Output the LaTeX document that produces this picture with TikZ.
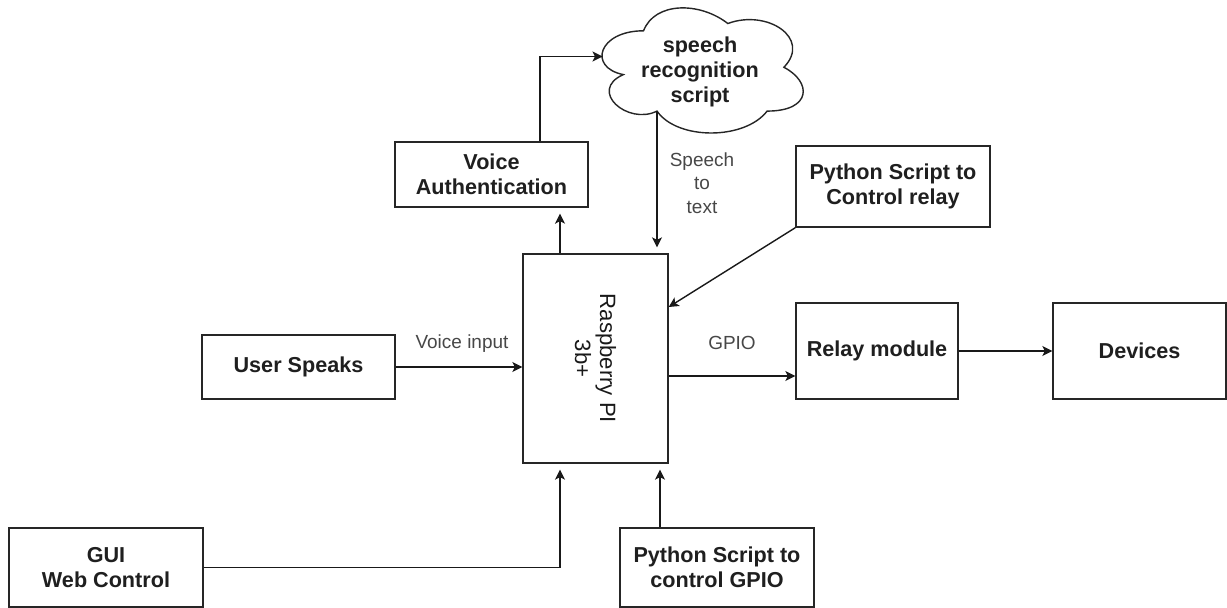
\documentclass[tikz,border=0pt]{standalone}
\usepackage{fontspec}
\setmainfont{Liberation Sans}
\usetikzlibrary{arrows.meta,calc}
\begin{document}
\begin{tikzpicture}[x=0.02cm,y=-0.02cm,
  box/.style={draw=black!85, line width=0.8pt, fill=white, align=center,
    font=\fontsize{12.3}{14.2}\selectfont\bfseries, inner sep=0pt, text=black!88},
  cloudtxt/.style={align=center, font=\fontsize{12.3}{14.2}\selectfont\bfseries, inner sep=0pt, text=black!88},
  rtxt/.style={align=center, font=\fontsize{12.6}{14.2}\selectfont, inner sep=0pt, text=black!90},
  lbl/.style={font=\fontsize{10.8}{13.4}\selectfont, text=black!72, align=center, inner sep=0pt},
  arr/.style={draw=black!90, line width=0.8pt, -{Stealth[length=0.2cm,width=0.2cm,inset=0.05cm]}},
  gap/.style={shorten >=0.12cm}]
\useasboundingbox (0,0) rectangle (1227,608);

% boxes
\node[box, minimum width=3.86cm, minimum height=1.30cm] (va) at (491.5,174.5) {Voice\\Authentication};
\node[box, minimum width=2.90cm, minimum height=4.18cm] (rpi) at (595.5,358.5) {};
\node[rtxt, rotate=-90] (rpitxt) at (rpi.center) {Raspberry PI\\3b+};
\node[box, minimum width=3.88cm, minimum height=1.62cm] (pcr) at (893,186.5) {Python Script to\\Control relay};
\node[box, minimum width=3.24cm, minimum height=1.92cm] (relay) at (877,351) {Relay module};
\node[box, minimum width=3.46cm, minimum height=1.92cm] (dev) at (1139.5,351) {Devices};
\node[box, minimum width=3.86cm, minimum height=1.28cm] (us) at (298.5,367) {User Speaks};
\node[box, minimum width=3.88cm, minimum height=1.58cm] (gui) at (106,567.5) {GUI\\Web Control};
\node[box, minimum width=3.88cm, minimum height=1.58cm] (pg) at (717,567.5) {Python Script to\\control GPIO};

% cloud
\draw[draw=black!85, line width=0.8pt, fill=white]
  (643.55,30.8) .. controls (598.6,30.8) and (587.4,67.3) .. (623.3,74.6)
  .. controls (587.4,90.7) and (627.8,125.7) .. (657.0,111.1)
  .. controls (677.2,140.3) and (744.6,140.3) .. (767.1,111.1)
  .. controls (812.0,111.1) and (812.0,81.9) .. (783.9,67.3)
  .. controls (812.0,38.1) and (767.1,8.9) .. (727.8,23.5)
  .. controls (699.7,1.6) and (654.8,1.6) .. (643.55,30.8) -- cycle;
\node[cloudtxt] (cl) at (700,72) {speech\\recognition\\script};
\coordinate (clw) at (602.5,56.5);
\coordinate (cls) at (657,111.1);

% connectors
\draw[arr] ([xshift=0.97cm]va.north) |- (clw);
\draw[arr, gap] (cls) -- (cls |- rpi.north);
\node[lbl] (stt) at (702,183) {Speech\\to\\text};
\draw[arr, gap] ([xshift=-0.71cm]rpi.north) -- ([xshift=-0.71cm]rpi.north |- va.south);
\draw[arr] (pcr.south west) -- ([yshift=1.03cm]rpi.east);
\draw[arr] (us.east) -- (us.east -| rpi.west);
\node[lbl] (vi) at (462,344) {Voice input};
\draw[arr] ([yshift=-0.35cm]rpi.east) -- ([yshift=-0.35cm]rpi.east -| relay.west);
\node[lbl] (gp) at (732,343) {GPIO};
\draw[arr] (relay.east) -- (dev.west);
\draw[arr, gap] (gui.east) -| ([xshift=-0.71cm]rpi.south);
\draw[arr, gap] ([xshift=-1.14cm]pg.north) -- ([xshift=-1.14cm]pg.north |- rpi.south);
\end{tikzpicture}
\end{document}
